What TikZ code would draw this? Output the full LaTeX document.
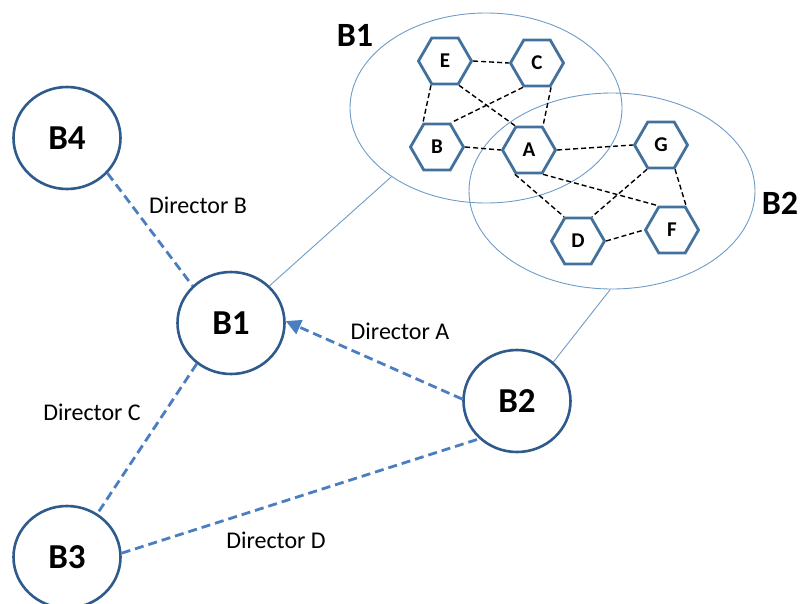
\documentclass[tikz,border=0pt]{standalone}
\usepackage{fontspec}
\setmainfont{Carlito}
\usetikzlibrary{shapes.geometric,arrows.meta}
\definecolor{circ}{HTML}{2F5A8C}
\definecolor{hexc}{HTML}{41719C}
\definecolor{dashc}{HTML}{4A7EC0}
\definecolor{ellc}{HTML}{6E9CC8}
\tikzset{
  bignode/.style={ellipse,draw=circ,line width=2.6pt,minimum width=107pt,minimum height=102pt,inner sep=0pt,font=\fontsize{35}{40}\selectfont\bfseries,fill=white},
  hexnode/.style={regular polygon,regular polygon sides=6,draw=hexc,line width=2.8pt,minimum size=53pt,inner sep=0pt,font=\fontsize{21}{24}\selectfont\bfseries,fill=white},
  grp/.style={ellipse,draw=ellc,line width=0.9pt,inner sep=0pt},
  grplabel/.style={font=\fontsize{34}{40}\selectfont\bfseries},
  dlink/.style={draw=dashc,line width=2.8pt,dash pattern=on 9pt off 5pt},
  hlink/.style={draw=black,line width=1.4pt,dash pattern=on 5pt off 3pt},
  thin/.style={draw=ellc,line width=0.9pt},
  dirlabel/.style={font=\fontsize{24}{28}\selectfont}
}
\begin{document}
\begin{tikzpicture}[x=1pt,y=-1pt]
\useasboundingbox (0,0) rectangle (801,603);
\clip (0,0) rectangle (801,603);
% group ellipses
\node[grp,minimum width=272pt,minimum height=190pt] (g1) at (486,108) {};
\node[grp,minimum width=286pt,minimum height=196pt] (g2) at (612,191) {};
\node[grplabel] (g1l) at (355,35) {B1};
\node[grplabel] (g2l) at (780,203) {B2};
% big nodes
\node[bignode] (B4) at (67,138) {B4};
\node[bignode] (B1) at (231,323) {B1};
\node[bignode] (B2) at (517,401) {B2};
\node[bignode] (B3) at (67,557) {B3};
% thin links
\draw[thin] (g1.216) -- (B1.44);
\draw[thin] (g2.269) -- (B2.47);
% hexagons
\node[hexnode] (E) at (445,61) {E};
\node[hexnode] (C) at (537,63) {C};
\node[hexnode] (B) at (437,147) {B};
\node[hexnode] (A) at (529,150) {A};
\node[hexnode] (G) at (661,145) {G};
\node[hexnode] (D) at (578,241) {D};
\node[hexnode] (F) at (672,230) {F};
% hex links
\draw[hlink] (E.0) -- (C.180);
\draw[hlink] (E.240) -- (B.120);
\draw[hlink] (E.300) -- (A.120);
\draw[hlink] (C.240) -- (B.60);
\draw[hlink] (C.300) -- (A.60);
\draw[hlink] (B.0) -- (A.180);
\draw[hlink] (A.0) -- (G.180);
\draw[hlink] (A.240) -- (D.120);
\draw[hlink] (A.300) -- (F.120);
\draw[hlink] (G.240) -- (D.60);
\draw[hlink] (G.300) -- (F.60);
\draw[hlink] (D.0) -- (F.180);
% director links
\draw[dlink] (B4.-41) -- (B1.136);
\draw[dlink,-{Triangle[length=15pt,width=15pt]}] (B2.178) -- (B1.2);
\draw[dlink] (B1.230) -- (B3.55);
\draw[dlink] (B3.4) -- (B2.225);
% labels
\node[dirlabel] (lb) at (198,205) {Director B};
\node[dirlabel] (la) at (400,331) {Director A};
\node[dirlabel] (lc) at (92,412) {Director C};
\node[dirlabel] (ld) at (276,540) {Director D};
\end{tikzpicture}
\end{document}
